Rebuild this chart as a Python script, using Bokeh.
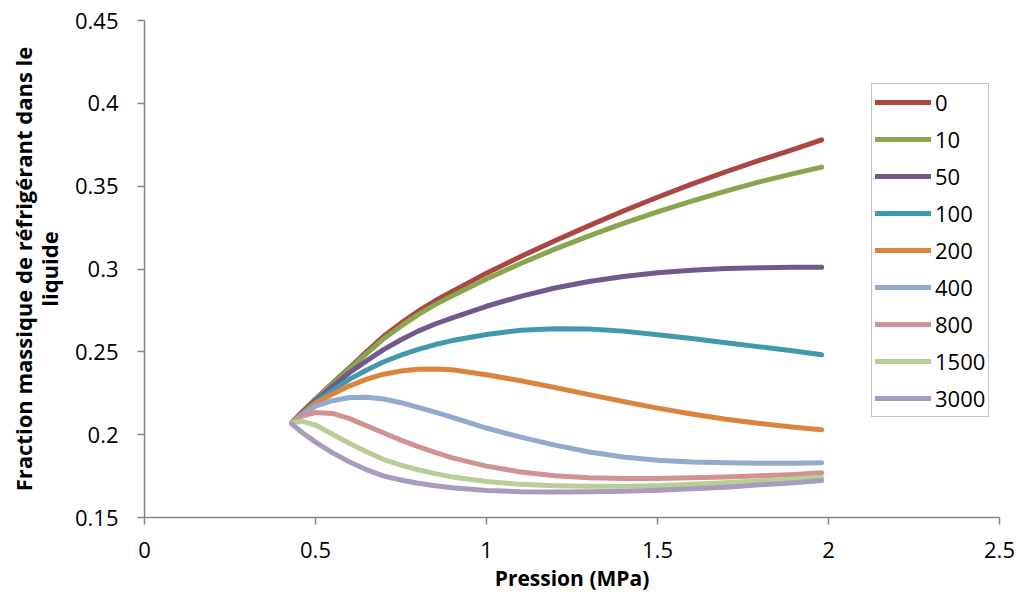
from bokeh.plotting import figure
from bokeh.models import FixedTicker, Legend, LegendItem, Range1d
from bokeh.embed import file_html
from bokeh.resources import INLINE

# ---- data ----
pressure = [0.43, 0.46, 0.5, 0.55, 0.6, 0.65, 0.7, 0.75, 0.8, 0.85, 0.9, 1.0, 1.1, 1.2,
            1.3, 1.4, 1.5, 1.6, 1.7, 1.8, 1.9, 1.98]

series_names = ["0", "10", "50", "100", "200", "400", "800", "1500", "3000"]

frac_0 = [0.207, 0.2135, 0.2215, 0.2312, 0.2405, 0.2502, 0.2595, 0.2673, 0.2745, 0.2808, 0.2865,
          0.2975, 0.3075, 0.3170, 0.3262, 0.3350, 0.3433, 0.3512, 0.3587, 0.3657, 0.3723, 0.3780]
frac_10 = [0.207, 0.2134, 0.2213, 0.2306, 0.2398, 0.2490, 0.2580, 0.2655, 0.2725, 0.2785, 0.2838,
           0.2940, 0.3033, 0.3120, 0.3200, 0.3275, 0.3345, 0.3410, 0.3470, 0.3527, 0.3577, 0.3615]
frac_50 = [0.207, 0.2131, 0.2205, 0.2292, 0.2375, 0.2447, 0.2515, 0.2573, 0.2625, 0.2668, 0.2705,
           0.2775, 0.2835, 0.2885, 0.2925, 0.2955, 0.2978, 0.2993, 0.3003, 0.3008, 0.3010, 0.3010]
frac_100 = [0.207, 0.2127, 0.2195, 0.2268, 0.2335, 0.2390, 0.2440, 0.2480, 0.2515, 0.2544, 0.2568,
            0.2605, 0.2630, 0.2640, 0.2638, 0.2625, 0.2603, 0.2580, 0.2555, 0.2530, 0.2505, 0.2482]
frac_200 = [0.207, 0.2122, 0.2190, 0.2245, 0.2295, 0.2335, 0.2365, 0.2384, 0.2395, 0.2397, 0.2392,
            0.2362, 0.2325, 0.2285, 0.2242, 0.2200, 0.2160, 0.2125, 0.2093, 0.2067, 0.2045, 0.2030]
frac_400 = [0.207, 0.2117, 0.2172, 0.2205, 0.2224, 0.2226, 0.2215, 0.2193, 0.2165, 0.2136, 0.2105,
            0.2040, 0.1985, 0.1937, 0.1895, 0.1865, 0.1845, 0.1835, 0.1830, 0.1828, 0.1828, 0.1830]
frac_800 = [0.207, 0.2112, 0.2134, 0.2128, 0.2097, 0.2053, 0.2010, 0.1967, 0.1928, 0.1893, 0.1860,
            0.1810, 0.1775, 0.1752, 0.1740, 0.1735, 0.1735, 0.1740, 0.1745, 0.1752, 0.1760, 0.1770]
frac_1500 = [0.207, 0.2082, 0.2058, 0.2003, 0.1947, 0.1895, 0.1850, 0.1816, 0.1788, 0.1765, 0.1745,
             0.1717, 0.1700, 0.1692, 0.1688, 0.1688, 0.1692, 0.1700, 0.1710, 0.1722, 0.1732, 0.1741]
frac_3000 = [0.2065, 0.2015, 0.1955, 0.1890, 0.1835, 0.1788, 0.1750, 0.1726, 0.1707, 0.1692, 0.1680,
             0.1663, 0.1656, 0.1654, 0.1655, 0.1659, 0.1665, 0.1673, 0.1683, 0.1697, 0.1710, 0.1723]

x_ticks = [0, 0.5, 1, 1.5, 2, 2.5]
x_tick_labels = ["0", "0.5", "1", "1.5", "2", "2.5"]
y_ticks = [0.15, 0.2, 0.25, 0.3, 0.35, 0.4, 0.45]
y_tick_labels = ["0.15", "0.2", "0.25", "0.3", "0.35", "0.4", "0.45"]

colors = ["#AA4643", "#89A54E", "#71588F", "#4198AF", "#DB843D",
          "#93A9CF", "#D19392", "#B9CD96", "#A99BBD"]

all_series = [frac_0, frac_10, frac_50, frac_100, frac_200,
              frac_400, frac_800, frac_1500, frac_3000]

FONT = "Open Sans"

p = figure(width=1016, height=594,
           x_range=Range1d(0, 2.5), y_range=Range1d(0.15, 0.45),
           output_backend="svg", toolbar_location=None,
           min_border_left=144, min_border_right=17,
           min_border_top=20, min_border_bottom=76)
p.outline_line_color = None
p.xgrid.visible = False
p.ygrid.visible = False
p.background_fill_color = "white"
p.border_fill_color = "white"

for ax in (p.xaxis[0], p.yaxis[0]):
    ax.axis_line_color = "#868686"
    ax.axis_line_width = 1.5
    ax.major_tick_line_color = "#868686"
    ax.major_tick_line_width = 1.5
    ax.major_tick_out = 7
    ax.major_tick_in = 0
    ax.minor_tick_line_color = None
    ax.major_label_text_font = FONT
    ax.major_label_text_font_size = "22px"
    ax.major_label_text_color = "black"
    ax.axis_label_text_font = FONT
    ax.axis_label_text_font_style = "bold"
    ax.axis_label_text_color = "black"

p.xaxis.axis_label_text_font_size = "21px"
p.yaxis.axis_label_text_font_size = "22px"
p.yaxis.axis_label_text_line_height = 0.88

p.xaxis.ticker = FixedTicker(ticks=x_ticks)
p.xaxis.major_label_overrides = dict(zip(x_ticks, x_tick_labels))
p.yaxis.ticker = FixedTicker(ticks=y_ticks)
p.yaxis.major_label_overrides = dict(zip(y_ticks, y_tick_labels))

p.xaxis.axis_label = "Pression (MPa)"
p.yaxis.axis_label = "Fraction massique de réfrigérant dans le\nliquide"
p.xaxis.major_label_standoff = 17
p.yaxis.major_label_standoff = 19
p.xaxis.axis_label_standoff = 3
p.yaxis.axis_label_standoff = 8

items = []
for name, ys, c in zip(series_names, all_series, colors):
    r = p.line(pressure, ys, line_color=c, line_width=5,
               line_cap="round", line_join="round")
    items.append(LegendItem(label=name, renderers=[r]))

legend = Legend(items=items, location=(727, 100))
legend.label_text_font = FONT
legend.label_text_font_size = "22px"
legend.label_text_color = "black"
legend.glyph_width = 56
legend.glyph_height = 28
legend.label_height = 28
legend.spacing = 7
legend.padding = 3
legend.margin = 0
legend.label_standoff = 4
legend.border_line_color = "#8c8c8c"
legend.border_line_width = 1.5
legend.background_fill_color = "white"
legend.background_fill_alpha = 1.0
p.add_layout(legend)

open("out.html", "w").write(file_html(p, INLINE))
